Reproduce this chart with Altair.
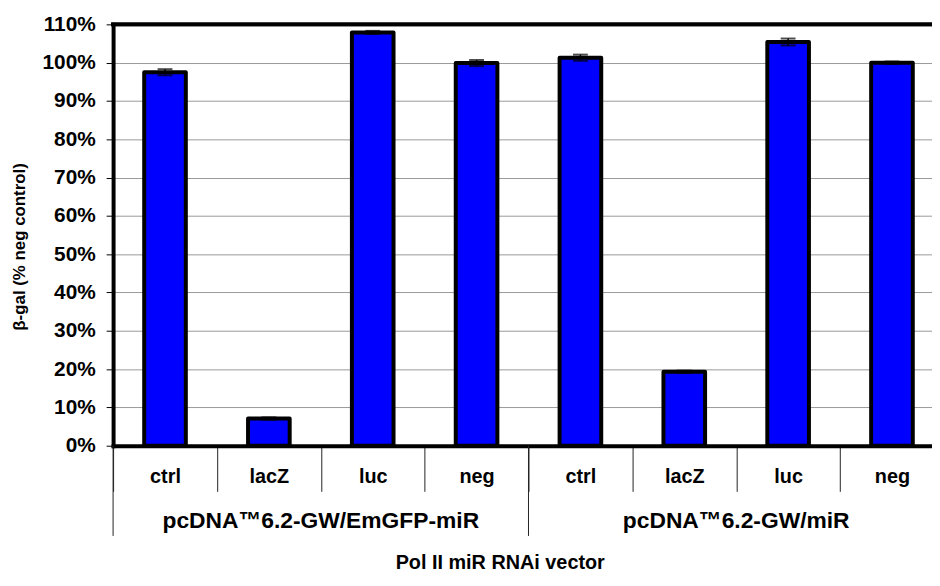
import altair as alt
import pandas as pd

# ---- data ----
groups = ["pcDNA\u21226.2-GW/EmGFP-miR", "pcDNA\u21226.2-GW/miR"]
group_ids = ["A", "B"]
categories = ["ctrl", "lacZ", "luc", "neg"]
values_a = [97.5, 7.1, 107.9, 99.9]
values_b = [101.3, 19.3, 105.4, 100.0]
err_a = [0.8, 0.3, 0.4, 0.8]
err_b = [0.8, 0.3, 0.9, 0.3]
y_ticks = [0, 10, 20, 30, 40, 50, 60, 70, 80, 90, 100, 110]

rows = []
for gid, vals, errs in [("A", values_a, err_a), ("B", values_b, err_b)]:
    for c, v, e in zip(categories, vals, errs):
        rows.append({"key": f"{gid}|{c}", "cat": c, "value": v,
                     "lo": v - e, "hi": v + e})
df = pd.DataFrame(rows)
order = list(df["key"])

grp_bound = pd.DataFrame({"key": [f"{g}|{categories[0]}" for g in group_ids]})
grp_lab = pd.DataFrame({"key": [f"{g}|{categories[2]}" for g in group_ids],
                        "label": groups})

FONT = "Liberation Sans"
W_RANGE = 838
H = 425

xscale = alt.Scale(domain=order, range=[0, W_RANGE], paddingInner=0, paddingOuter=0)
yscale = alt.Scale(domain=[0, 110], nice=False)

x_axis = alt.Axis(
    title="Pol II miR RNAi vector",
    labelExpr="split(datum.value, '|')[1]",
    labelAngle=0, labelFont=FONT, labelFontSize=20, labelFontWeight="bold",
    labelColor="black", labelBaseline="middle", labelPadding=-15,
    tickBand="extent", ticks=True, tickSize=46, tickColor="#222", tickWidth=1,
    domainColor="black", domainWidth=4, domainCap="square",
    titleFont=FONT, titleFontSize=20, titleFontWeight="bold", titleColor="black",
    titleX=390, titleY=118, titleAlign="center", titleBaseline="middle",
    titleAnchor="start",
)
y_axis = alt.Axis(
    title="\u03b2-gal (% neg control)", values=y_ticks, labelOverlap=False,
    labelExpr="datum.value + '%'",
    labelFont=FONT, labelFontSize=21, labelFontWeight="bold", labelColor="black",
    labelPadding=11, tickSize=7, tickColor="black", tickWidth=1,
    domainColor="black", domainWidth=4, domainCap="square",
    grid=True, gridColor="#999999", gridWidth=1,
    titleFont=FONT, titleFontSize=17, titleFontWeight="bold", titleColor="black",
    titleAngle=270, titleX=-94, titleY=224, titleAlign="center",
    titleBaseline="middle", titleAnchor="start",
)

X = alt.X("key:N", sort=order, scale=xscale, axis=x_axis)

base = alt.Chart(df)

bars = base.mark_bar(size=42, fill="#0000FF", stroke="black", strokeWidth=4,
                     strokeJoin="round").encode(
    x=X,
    y=alt.Y("value:Q", scale=yscale, axis=y_axis),
)

err_rule = base.mark_rule(color="black", strokeWidth=1.5).encode(
    x=X, y=alt.Y("lo:Q", scale=yscale, axis=y_axis), y2="hi:Q")
err_hi = base.mark_tick(color="black", size=15, thickness=2).encode(
    x=X, y=alt.Y("hi:Q", scale=yscale, axis=y_axis))
err_lo = base.mark_tick(color="black", size=15, thickness=2).encode(
    x=X, y=alt.Y("lo:Q", scale=yscale, axis=y_axis))

grp_rules = alt.Chart(grp_bound).mark_rule(color="#222", strokeWidth=1).encode(
    x=alt.X("key:N", sort=order, scale=xscale, axis=x_axis, bandPosition=0),
    y=alt.value(H), y2=alt.value(H + 91))

grp_text = alt.Chart(grp_lab).mark_text(
    font=FONT, fontSize=23, fontWeight="bold", color="black",
    align="center", baseline="middle").encode(
    x=alt.X("key:N", sort=order, scale=xscale, axis=x_axis, bandPosition=0),
    y=alt.value(H + 76), text="label:N")

top_border = alt.Chart(grp_bound).mark_rule(color="black", strokeWidth=4,
                                            strokeCap="square").encode(
    x=alt.value(0), x2=alt.value(W_RANGE), y=alt.value(0))

chart = alt.layer(bars, err_rule, err_hi, err_lo, grp_rules, grp_text, top_border).properties(
    width=826, height=H,
    autosize=alt.AutoSizeParams(type="none"),
    padding={"left": 106, "top": 14, "right": 0, "bottom": 139},
).configure_view(stroke=None).configure(background="white")

chart.save("out.html", embed_options={"renderer": "svg", "actions": False})
